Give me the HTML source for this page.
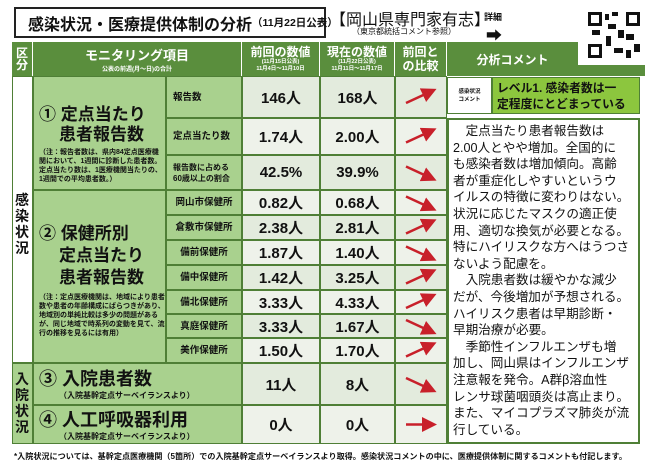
<!DOCTYPE html>
<html><head><meta charset="utf-8">
<style>
*{margin:0;padding:0;box-sizing:border-box}
body{width:650px;height:475px;background:#fff;position:relative;overflow:hidden;font-family:"Liberation Sans","Noto Sans CJK JP",sans-serif;font-weight:bold;color:#111}
.a{position:absolute}
.c{display:flex;align-items:center;justify-content:center;text-align:center}
.it{background:#a9d18e;border:1px solid #4f7f36}
.v{border:1px solid #4f7f36;font-size:15px}
.v1{background:#e3ebdd}.v2{background:#eef2ea}
.sm{font-size:7px;line-height:9px;font-weight:bold}
.dash{border-top:1.5px dashed #4f7f36}
</style></head><body>
<div class="a c" style="left:14px;top:7px;width:312px;height:31px;border:2px solid #222;font-size:16px;justify-content:flex-start;padding-left:12px;white-space:nowrap">感染状況・医療提供体制の分析<span style="font-size:10.5px">（11月22日公表）</span></div>
<div class="a" style="left:330px;top:6px;font-size:16px;font-weight:normal;white-space:nowrap">【岡山県専門家有志】</div>
<div class="a" style="left:352px;top:26px;font-size:8px;font-weight:normal;white-space:nowrap">（東京都統括コメント参照）</div>
<div class="a" style="left:484px;top:10px;font-size:9px">詳細</div>
<div class="a" style="left:486px;top:22px;font-size:16px">➡</div>
<div class="a" style="left:12px;top:42px;width:633px;height:34px;background:#5a8e3d"></div>
<div class="a" style="left:578px;top:0;width:72px;height:65px;background:#fff">
<svg width="72" height="65"><g fill="#111">
<rect x="10" y="12" width="14" height="14"/><rect x="48" y="12" width="14" height="14"/><rect x="10" y="44" width="14" height="14"/>
<rect x="27" y="14" width="4" height="6"/><rect x="34" y="12" width="6" height="4"/><rect x="30" y="24" width="8" height="5"/><rect x="40" y="30" width="6" height="8"/><rect x="28" y="36" width="5" height="10"/><rect x="48" y="34" width="8" height="6"/><rect x="56" y="44" width="6" height="8"/><rect x="36" y="48" width="9" height="5"/><rect x="14" y="30" width="8" height="5"/><rect x="48" y="50" width="5" height="8"/></g>
<g fill="#fff"><rect x="13" y="15" width="8" height="8"/><rect x="51" y="15" width="8" height="8"/><rect x="13" y="47" width="8" height="8"/></g></svg></div>
<div class="a c" style="left:12px;top:42px;width:21px;height:34px;color:#fff;font-size:12px;line-height:12px;border-right:1px solid #fff">区<br>分</div>
<div class="a c" style="left:33px;top:42px;width:209px;height:34px;color:#fff;flex-direction:column;font-size:13px;border-right:1px solid #fff">モニタリング項目<span style="font-size:6px">公表の前週(月～日)の合計</span></div>
<div class="a c" style="left:242px;top:42px;width:78px;height:34px;color:#fff;flex-direction:column;font-size:12px;line-height:13px;border-right:1px solid #fff">前回の数値<span style="font-size:5.5px;line-height:7px">(11月15日公表)<br>11月4日～11月10日</span></div>
<div class="a c" style="left:320px;top:42px;width:75px;height:34px;color:#fff;flex-direction:column;font-size:12px;line-height:13px;border-right:1px solid #fff">現在の数値<span style="font-size:5.5px;line-height:7px">(11月22日公表)<br>11月11日～11月17日</span></div>
<div class="a c" style="left:395px;top:42px;width:52px;height:34px;color:#fff;font-size:12px;line-height:14px;border-right:1px solid #fff">前回と<br>の比較</div>
<div class="a c" style="left:447px;top:42px;width:131px;height:34px;color:#fff;font-size:12px">分析コメント</div>

<div class="a" style="left:12px;top:76px;width:21px;height:287px;border:1px solid #4f7f36;background:#fff"></div>
<div class="a" style="left:15px;top:192px;font-size:14px;line-height:16px;width:16px">感<br>染<br>状<br>況</div>
<div class="a" style="left:12px;top:363px;width:21px;height:81px;border:1px solid #4f7f36;background:#a9d18e;font-size:14px;line-height:16px;padding:7px 0 0 2px">入<br>院<br>状<br>況</div>

<div class="a it" style="left:33px;top:76px;width:133px;height:114px;padding:28px 0 0 5px">
<div style="font-size:17px;line-height:20px">① 定点当たり</div><div style="font-size:17px;line-height:20px;padding-left:20px">患者報告数</div>
<div class="sm" style="padding-top:3px">（注：報告者数は、県内84定点医療機関において、1週間に診断した患者数。定点当たり数は、1医療機関当たりの、1週間での平均患者数。）</div></div>
<div class="a it" style="left:33px;top:190px;width:133px;height:173px;padding:32px 0 0 5px">
<div style="font-size:17px;line-height:22px">② 保健所別</div><div style="font-size:17px;line-height:22px;padding-left:20px">定点当たり<br>患者報告数</div>
<div class="sm" style="padding-top:4px">（注：定点医療機関は、地域により患者数や患者の年齢構成にばらつきがあり、地域別の単純比較は多少の問題があるが、同じ地域で時系列の変動を見て、流行の推移を見るには有用）</div></div>
<div class="a it" style="left:33px;top:363px;width:209px;height:42px;padding:4px 0 0 5px"><div style="font-size:18px;line-height:22px">③ 入院患者数</div><div style="font-size:8px;padding-left:20px">（入院基幹定点サーベイランスより）</div></div>
<div class="a it" style="left:33px;top:405px;width:209px;height:39px;padding:3px 0 0 5px"><div style="font-size:18px;line-height:22px">④ 人工呼吸器利用</div><div style="font-size:8px;padding-left:20px">（入院基幹定点サーベイランスより）</div></div>

<div id="rows"></div>
<svg id="arrows" class="a" style="left:0;top:0" width="650" height="475"></svg>

<div class="a c" style="left:447px;top:77px;width:45px;height:37px;border:1px solid #4f7f36;background:#fff;font-size:5.5px;line-height:8px">感染状況<br>コメント</div>
<div class="a" style="left:492px;top:77px;width:148px;height:37px;border:1px solid #4f7f36;background:#8cc63e;font-size:11.8px;line-height:16px;padding:2px 0 0 4px;white-space:nowrap">レベル1. 感染者数は一<br>定程度にとどまっている</div>
<div class="a" style="left:447px;top:118px;width:193px;height:326px;border:2px solid #4f7f36;background:#fff;font-size:12.6px;line-height:16.6px;font-weight:normal;padding:3px 0 0 4px;white-space:nowrap;overflow:hidden">
　定点当たり患者報告数は<br>2.00人とやや増加。全国的に<br>も感染者数は増加傾向。高齢<br>者が重症化しやすいというウ<br>イルスの特徴に変わりはない。<br>状況に応じたマスクの適正使<br>用、適切な換気が必要となる。<br>特にハイリスクな方へはうつさ<br>ないよう配慮を。<br>　入院患者数は緩やかな減少<br>だが、今後増加が予想される。<br>ハイリスク患者は早期診断・<br>早期治療が必要。<br>　季節性インフルエンザも増<br>加し、岡山県はインフルエンザ<br>注意報を発令。A群β溶血性<br>レンサ球菌咽頭炎は高止まり。<br>また、マイコプラズマ肺炎が流<br>行している。</div>
<div class="a" style="left:14px;top:451px;font-size:8.1px;white-space:nowrap">*入院状況については、基幹定点医療機関（5箇所）での入院基幹定点サーベイランスより取得。感染状況コメントの中に、医療提供体制に関するコメントも付記します。</div>

<script>
const labels=["報告数","定点当たり数","報告数に占める\n60歳以上の割合","岡山市保健所","倉敷市保健所","備前保健所","備中保健所","備北保健所","真庭保健所","美作保健所","",""];
const prevValues=[146,1.74,42.5,0.82,2.38,1.87,1.42,3.33,3.33,1.50,11,0];
const currValues=[168,2.00,39.9,0.68,2.81,1.40,3.25,4.33,1.67,1.70,8,0];
const units=["人","人","%","人","人","人","人","人","人","人","人","人"];
const decimals=[0,2,1,2,2,2,2,2,2,2,0,0];
const rowTops=[76,118,155,190,215,240,265,290,314,338,363,405,444];
const rows=document.getElementById('rows');
const svg=document.getElementById('arrows');
const NS="http://www.w3.org/2000/svg";
svg.innerHTML='<defs><marker id="ah" markerWidth="6" markerHeight="6" refX="4" refY="3" orient="auto"><path d="M0,0L6,3L0,6z" fill="#c8202a"/></marker></defs>';
for(let i=0;i<prevValues.length;i++){
  const t=rowTops[i],h=rowTops[i+1]-t;
  const bg=i%2?'v2':'v1';
  if(labels[i]){
    const l=document.createElement('div');
    l.className='a c it';
    l.style.cssText=`left:166px;top:${t}px;width:76px;height:${h}px;font-size:${labels[i].includes('\n')?8:9.5}px;line-height:11px;white-space:pre;justify-content:${i<3?'flex-start':'center'};text-align:left;padding-left:${i<3?6:0}px`;
    l.textContent=labels[i];
    
    
    rows.appendChild(l);
  }
  const p=document.createElement('div');
  p.className='a c v '+bg;
  p.style.cssText=`left:242px;top:${t}px;width:78px;height:${h}px`;
  p.textContent=prevValues[i].toFixed(decimals[i])+units[i];
  
  
  rows.appendChild(p);
  const c=document.createElement('div');
  c.className='a c v '+bg;
  c.style.cssText=`left:320px;top:${t}px;width:75px;height:${h}px`;
  c.textContent=currValues[i].toFixed(decimals[i])+units[i];
  
  
  rows.appendChild(c);
  const a=document.createElement('div');
  a.className='a v '+bg;
  a.style.cssText=`left:395px;top:${t}px;width:52px;height:${h}px`;
  
  
  rows.appendChild(a);
  const d=Math.sign(currValues[i]-prevValues[i]);
  const cy=t+h/2;
  const ln=document.createElementNS(NS,'line');
  ln.setAttribute('x1',406);ln.setAttribute('x2',432);
  ln.setAttribute('y1',cy+d*6);ln.setAttribute('y2',cy-d*6);
  ln.setAttribute('stroke','#c8202a');ln.setAttribute('stroke-width','2.5');
  ln.setAttribute('marker-end','url(#ah)');
  
  
  svg.appendChild(ln);
}
for(let i=4;i<10;i++){
  const ds=document.createElement('div');
  ds.className='a dash';
  ds.style.cssText=`left:166px;top:${rowTops[i]}px;width:281px;height:1px`;
  
  
  rows.appendChild(ds);
}
</script>
</body></html>
